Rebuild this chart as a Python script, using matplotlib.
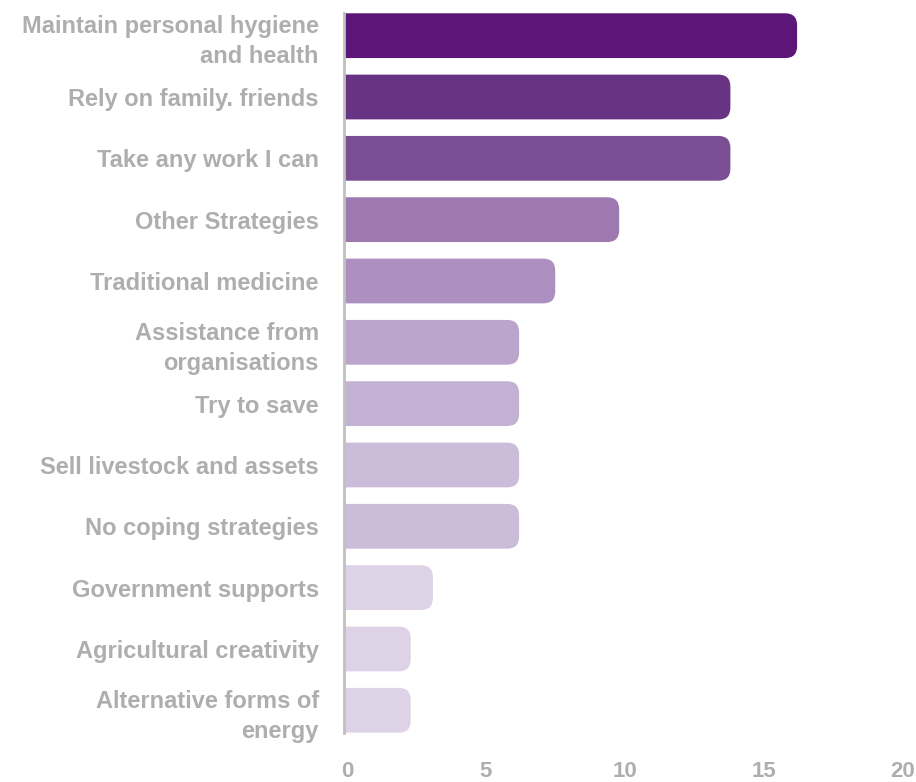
import numpy as np
import matplotlib
matplotlib.use('Agg')
import matplotlib.pyplot as plt
from matplotlib.patches import FancyBboxPatch
from matplotlib.transforms import ScaledTranslation

plt.rcParams['font.family'] = ['Liberation Sans', 'DejaVu Sans']

labels = ['Maintain personal hygiene\nand health', 'Rely on family. friends', 'Take any work I can',
          'Other Strategies', 'Traditional medicine', 'Assistance from\norganisations', 'Try to save',
          'Sell livestock and assets', 'No coping strategies', 'Government supports',
          'Agricultural creativity', 'Alternative forms of\nenergy']
values = [16.3, 13.9, 13.9, 9.9, 7.6, 6.3, 6.3, 6.3, 6.3, 3.2, 2.4, 2.4]
colors = ['#5c1677', '#693384', '#7b4e93', '#9e79b0', '#ae90c0', '#bba5cd',
          '#c3b1d4', '#cbbcda', '#cbbcda', '#ddd2e6', '#ddd2e6', '#ddd2e6']
xticks = [0, 5, 10, 15, 20]

grey = '#b0adad'
fig = plt.figure(figsize=(9.16, 7.82), dpi=100)
ax = fig.add_axes([0.3755, 0.0627, 0.607, 0.9207])

bar_h = 0.73
for i, (v, c) in enumerate(zip(values, colors)):
    # start left of zero so only the right end shows rounded corners
    p = FancyBboxPatch((-1, i - bar_h / 2), v + 1, bar_h,
                       boxstyle='round,pad=0,rounding_size=0.43',
                       mutation_aspect=0.455, fc=c, ec='none')
    ax.add_patch(p)

ax.set_xlim(0, 20)
ax.set_ylim(len(values) - 1 + 0.37, -0.37)
ax.set_yticks(range(len(labels)))
ax.set_yticklabels(labels, fontsize=17, fontweight='bold', color=grey, linespacing=1.4)
ax.set_xticks(xticks)
ax.set_xticklabels([str(t) for t in xticks], fontsize=16, fontweight='bold', color=grey)
ax.tick_params(axis='both', length=0)
ax.tick_params(axis='y', pad=18)
ax.tick_params(axis='x', pad=20)
for lab in ax.get_xticklabels():
    lab.set_transform(lab.get_transform() + ScaledTranslation(3 / 100, 0, fig.dpi_scale_trans))

for s in ['top', 'right', 'bottom']:
    ax.spines[s].set_visible(False)
ax.spines['left'].set_color('#c0c0c0')
ax.spines['left'].set_linewidth(2)

fig.savefig('out.png', dpi=100)
